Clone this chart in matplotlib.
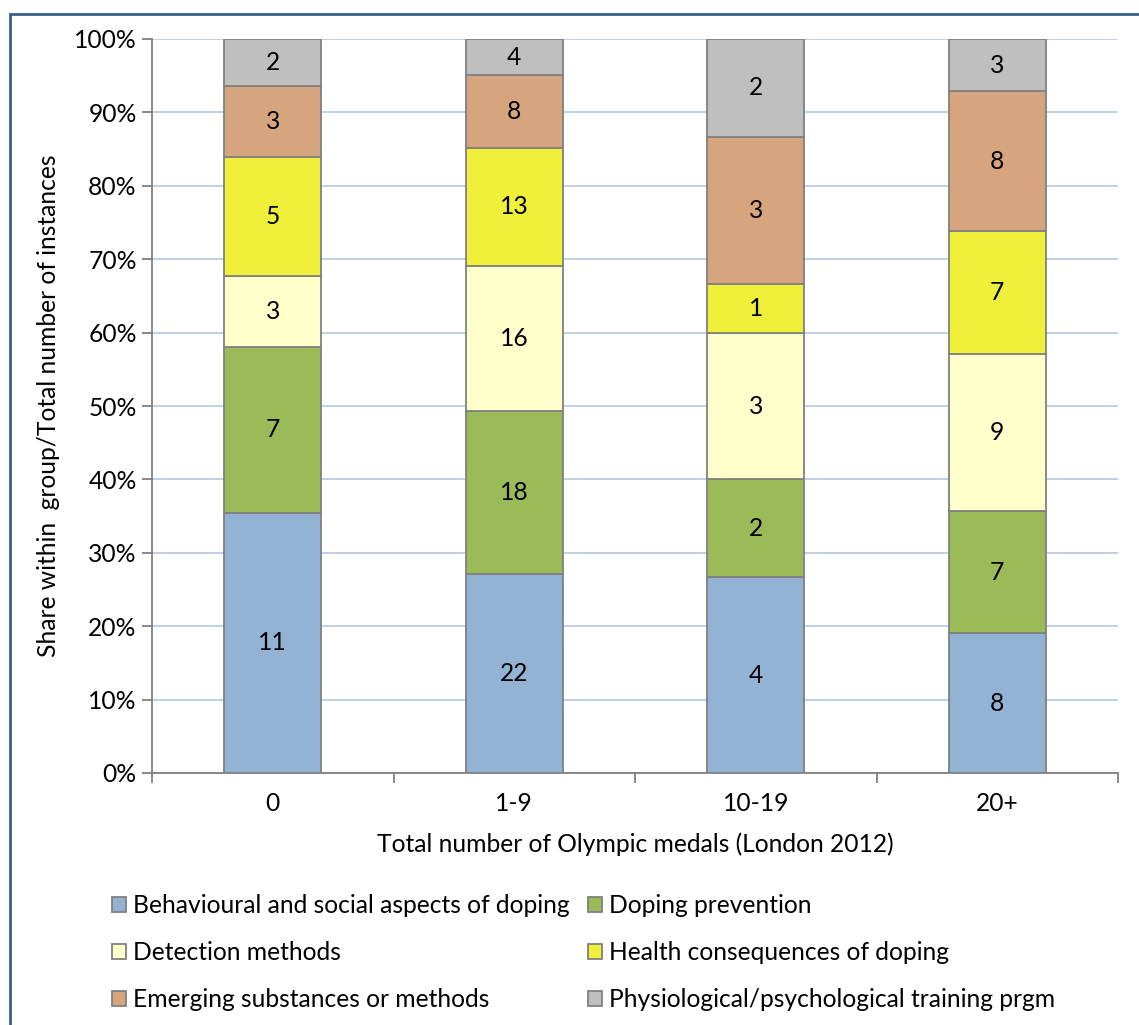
import matplotlib
matplotlib.use("Agg")
import matplotlib.pyplot as plt
from matplotlib.patches import Rectangle, Patch
import numpy as np

plt.rcParams['font.family'] = ['Lato', 'DejaVu Sans']

categories = ["0", "1-9", "10-19", "20+"]
series_names = [
    "Behavioural and social aspects of doping",
    "Doping prevention",
    "Detection methods",
    "Health consequences of doping",
    "Emerging substances or methods",
    "Physiological/psychological training prgm",
]
behavioural = [11, 22, 4, 8]
prevention = [7, 18, 2, 7]
detection = [3, 16, 3, 9]
health = [5, 13, 1, 7]
emerging = [3, 8, 3, 8]
physio = [2, 4, 2, 3]
colors = ["#93B3D5", "#9BBB59", "#FFFFCC", "#F0F03A", "#D7A57D", "#BFBFBF"]

series = [behavioural, prevention, detection, health, emerging, physio]
data = np.array(series, dtype=float)
totals = data.sum(axis=0)
shares = data / totals * 100

FS = 17.7
W, H = 1139, 1025
fig = plt.figure(figsize=(W / 100, H / 100), dpi=100)
ax = fig.add_axes([152 / W, 1 - 773 / H, (1118 - 152) / W, (773 - 39) / H])

x = np.arange(len(categories))
bottom = np.zeros(len(categories))
for vals, sh, c in zip(series, shares, colors):
    ax.bar(x, sh, bottom=bottom, width=0.4, color=c, edgecolor="#808080",
           linewidth=1.3, zorder=3)
    for xi, b, s, v in zip(x, bottom, sh, vals):
        ax.text(xi, b + s / 2, str(v), ha="center", va="center",
                fontsize=FS, color="black", zorder=4)
    bottom += sh

ax.set_xlim(-0.5, len(categories) - 0.5)
ax.set_ylim(0, 100)
ax.set_yticks(np.arange(0, 101, 10))
ax.set_yticklabels([f"{v}%" for v in range(0, 101, 10)], fontsize=FS)
ax.yaxis.grid(True, color="#B9CDE5", linewidth=1.3, zorder=0)
ax.set_xticks(x)
ax.set_xticklabels(categories, fontsize=FS)
ax.tick_params(axis="x", length=0, pad=14)
ax.set_xticks(np.arange(-0.5, len(categories), 1), minor=True)
ax.tick_params(axis="x", which="minor", length=7, color="#808080", width=1.3)
ax.tick_params(axis="y", length=7, color="#808080", width=1.3, pad=4)
for side in ["top", "right"]:
    ax.spines[side].set_visible(False)
for side in ["left", "bottom"]:
    ax.spines[side].set_color("#808080")
    ax.spines[side].set_linewidth(1.3)

ax.set_xlabel("Total number of Olympic medals (London 2012)", fontsize=FS, labelpad=12)
ax.set_ylabel("Share within  group/Total number of instances", fontsize=FS, labelpad=10)

handles = [Patch(facecolor=c, edgecolor="#808080", linewidth=1.3) for c in colors]
order = [0, 2, 4, 1, 3, 5]
fig.legend([handles[i] for i in order], [series_names[i] for i in order],
           ncol=2, loc="upper left", bbox_to_anchor=(112 / W, 1 - 894 / H),
           frameon=False, fontsize=FS, handlelength=0.57, handleheight=0.57,
           handletextpad=0.3, columnspacing=0.72, labelspacing=0.98,
           borderaxespad=0, borderpad=0)

fig.patches.append(Rectangle((10 / W, -0.05), 1.1, 1 - 14 / H + 0.05,
                             transform=fig.transFigure, fill=False,
                             edgecolor="#3A5F8B", linewidth=2))

fig.savefig("out.png", dpi=100)
